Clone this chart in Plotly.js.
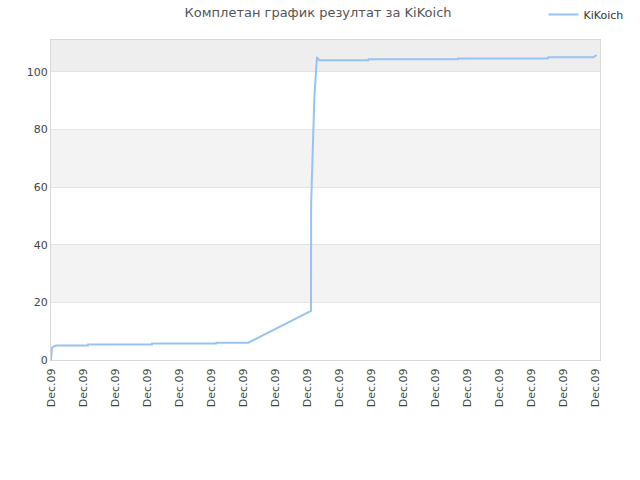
<!DOCTYPE html>
<html>
<head>
<meta charset="utf-8">
<script src="https://cdn.plot.ly/plotly-3.0.1.min.js"></script>
<style>
  html, body { margin: 0; padding: 0; background: #fff; }
  #chart { width: 640px; height: 480px; }
</style>
</head>
<body>
<div id="chart"></div>
<script>
// x is in tick units (one tick = one "Dec.09" label)
const xPos = [0, 0.03, 0.06, 0.16, 1.15, 1.16, 3.15, 3.16, 5.16, 5.17, 6.17, 8.125,
  8.13, 8.16, 8.19, 8.2, 8.23, 8.28, 8.31, 8.34, 8.38,
  9.91, 9.92, 12.71, 12.72, 15.53, 15.54, 16.95, 17.05];
const scores = [0, 4.1, 4.6, 5.0, 5.0, 5.4, 5.4, 5.7, 5.7, 6.0, 6.0, 17.0,
  54.5, 67, 73, 82, 91, 100, 104.9, 104.7, 104.0,
  104.0, 104.3, 104.3, 104.6, 104.6, 105.0, 105.0, 105.8];

const tickCount = 18;
const tickVals = [];
const tickLabels = [];
for (let i = 0; i < tickCount; i++) { tickVals.push(i); tickLabels.push('Dec.09'); }

const yTicks = [0, 20, 40, 60, 80, 100];
const yMax = 111;

// alternating background bands
let shapes = [];
for (let i = 0; i < yTicks.length; i++) {
    let lo = yTicks[i];
    let hi = i + 1 < yTicks.length ? yTicks[i + 1] : yMax;
    let fill = null;
    if (i === yTicks.length - 1) fill = '#eeeeee';
    else if (i % 2 === 1) fill = '#f3f3f3';
    if (!fill) continue;
    shapes.push({ type: 'rect', xref: 'paper', yref: 'y', x0: 0, x1: 1, y0: lo, y1: hi,
        fillcolor: fill, line: { width: 0 }, layer: 'below' });
}

const trace = {
    x: xPos, y: scores, type: 'scatter', mode: 'lines', name: 'KiKoich',
    line: { color: 'rgb(150,196,242)', width: 2 }
};

const layout = {
    width: 640, height: 480,
    margin: { l: 51, r: 40, t: 40, b: 120, autoexpand: false },
    paper_bgcolor: '#ffffff', plot_bgcolor: '#ffffff',
    font: { family: 'DejaVu Sans, sans-serif', size: 11, color: '#444' },
    title: { text: 'Комплетан график резултат за KiKoich', x: 0.497, xanchor: 'center',
        y: 0.975, yanchor: 'middle', font: { size: 13, color: '#555' } },
    showlegend: true,
    legend: { xref: 'container', yref: 'container', x: 0.982, xanchor: 'right',
        y: 1.006, yanchor: 'top',
        font: { size: 11, color: '#333' }, bgcolor: 'rgba(0,0,0,0)', itemwidth: 30 },
    xaxis: {
        range: [0, 17.156], tickmode: 'array', tickvals: tickVals, ticktext: tickLabels,
        tickangle: -90, showgrid: false, zeroline: false, automargin: false,
        showline: true, mirror: true, linecolor: '#d9d9d9', linewidth: 1,
        ticks: '', ticklabelstandoff: 3, tickfont: { size: 11, color: '#444' }
    },
    yaxis: {
        range: [0, yMax], tickmode: 'array', tickvals: yTicks, automargin: false,
        showgrid: true, gridcolor: '#e3e3e3', zeroline: false,
        showline: true, mirror: true, linecolor: '#d9d9d9', linewidth: 1,
        ticks: '', tickfont: { size: 11, color: '#444' }
    },
    shapes: shapes
};

Plotly.newPlot('chart', [trace], layout, { displayModeBar: false, staticPlot: true });
</script>
</body>
</html>
